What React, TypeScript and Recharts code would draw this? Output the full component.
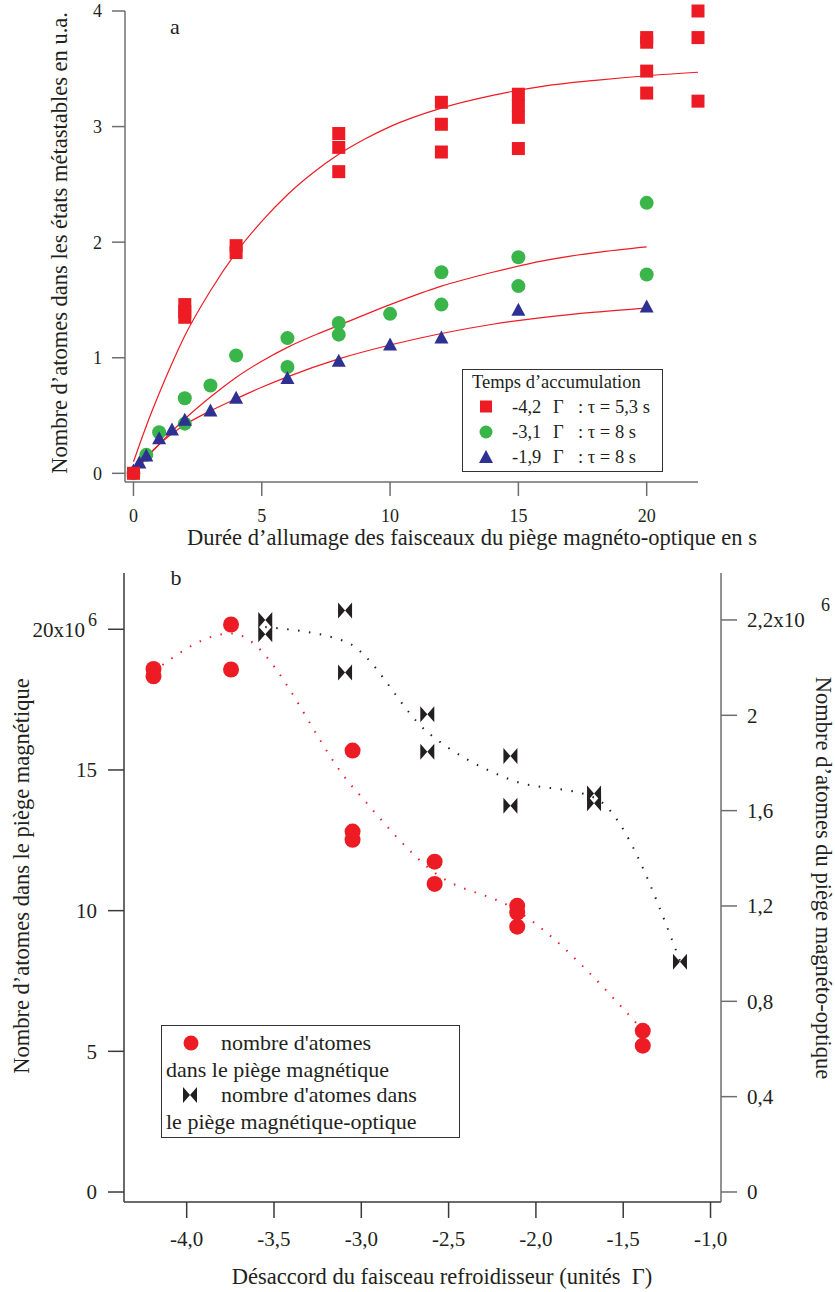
import { ComposedChart, Scatter, Line, XAxis, YAxis } from "recharts";

const FONT = "'Liberation Serif', 'Times New Roman', serif";
const TEXT = "#231f20";
const AXIS = "#6d6e70";
const RED = "#ed1c24";
const GREEN = "#39b54a";
const BLUE = "#2e3192";
const BLACK = "#231f20";

// panel a : durée (s) -> nombre d'atomes (u.a.)
const redSquares = [
  { x: 0, y: 0 }, { x: 2, y: 1.35 }, { x: 2, y: 1.40 }, { x: 2, y: 1.46 },
  { x: 4, y: 1.91 }, { x: 4, y: 1.97 }, { x: 8, y: 2.61 }, { x: 8, y: 2.82 }, { x: 8, y: 2.94 },
  { x: 12, y: 2.78 }, { x: 12, y: 3.02 }, { x: 12, y: 3.21 },
  { x: 15, y: 2.81 }, { x: 15, y: 3.08 }, { x: 15, y: 3.18 }, { x: 15, y: 3.28 },
  { x: 20, y: 3.29 }, { x: 20, y: 3.48 }, { x: 20, y: 3.73 }, { x: 20, y: 3.77 },
  { x: 22, y: 3.22 }, { x: 22, y: 3.77 }, { x: 22, y: 4.0 },
];
const greenCircles = [
  { x: 0, y: 0 }, { x: 0.5, y: 0.16 }, { x: 1, y: 0.355 }, { x: 2, y: 0.43 }, { x: 2, y: 0.65 },
  { x: 3, y: 0.76 }, { x: 4, y: 1.02 }, { x: 6, y: 0.92 }, { x: 6, y: 1.17 },
  { x: 8, y: 1.2 }, { x: 8, y: 1.3 }, { x: 10, y: 1.38 }, { x: 12, y: 1.46 }, { x: 12, y: 1.74 },
  { x: 15, y: 1.62 }, { x: 15, y: 1.87 }, { x: 20, y: 1.72 }, { x: 20, y: 2.34 },
];
const blueTriangles = [
  { x: 0, y: 0.02 }, { x: 0.23, y: 0.09 }, { x: 0.5, y: 0.15 }, { x: 1, y: 0.3 }, { x: 1.5, y: 0.375 },
  { x: 2, y: 0.46 }, { x: 3, y: 0.54 }, { x: 4, y: 0.65 }, { x: 6, y: 0.82 }, { x: 8, y: 0.97 },
  { x: 10, y: 1.11 }, { x: 12, y: 1.17 }, { x: 15, y: 1.41 }, { x: 20, y: 1.44 },
];
// courbes d'ajustement
const fitRed = [
  { x: 0, y: 0.1 }, { x: 0.5, y: 0.41 }, { x: 1, y: 0.69 }, { x: 1.5, y: 0.95 }, { x: 2, y: 1.19 },
  { x: 3, y: 1.58 }, { x: 4, y: 1.91 }, { x: 5, y: 2.18 }, { x: 6, y: 2.41 }, { x: 7, y: 2.6 },
  { x: 8, y: 2.76 }, { x: 9, y: 2.89 }, { x: 10, y: 3.0 }, { x: 12, y: 3.16 }, { x: 14, y: 3.27 },
  { x: 16, y: 3.35 }, { x: 18, y: 3.4 }, { x: 20, y: 3.44 }, { x: 22, y: 3.47 },
];
const fitGreen = [
  { x: 0, y: 0 }, { x: 0.5, y: 0.13 }, { x: 1, y: 0.25 }, { x: 2, y: 0.47 }, { x: 3, y: 0.66 },
  { x: 4, y: 0.83 }, { x: 5, y: 0.97 }, { x: 6, y: 1.09 }, { x: 7, y: 1.19 }, { x: 8, y: 1.28 },
  { x: 10, y: 1.46 }, { x: 12, y: 1.62 }, { x: 14, y: 1.74 }, { x: 16, y: 1.84 }, { x: 18, y: 1.91 },
  { x: 20, y: 1.96 },
];
const fitBlue = [
  { x: 0, y: 0 }, { x: 0.5, y: 0.14 }, { x: 1, y: 0.25 }, { x: 2, y: 0.42 }, { x: 3, y: 0.54 },
  { x: 4, y: 0.645 }, { x: 5, y: 0.745 }, { x: 6, y: 0.835 }, { x: 8, y: 0.99 }, { x: 10, y: 1.11 },
  { x: 12, y: 1.21 }, { x: 14, y: 1.29 }, { x: 16, y: 1.35 }, { x: 18, y: 1.395 }, { x: 20, y: 1.43 },
];
const ticksA_x = [0, 5, 10, 15, 20];
const ticksA_y = [0, 1, 2, 3, 4];

// panel b : désaccord (Γ) -> nombre d'atomes (x10^6)
const magTrap = [
  { x: -4.19, y: 18.33 }, { x: -4.19, y: 18.59 }, { x: -3.746, y: 18.57 }, { x: -3.746, y: 20.17 },
  { x: -3.05, y: 12.52 }, { x: -3.05, y: 12.81 }, { x: -3.05, y: 15.69 },
  { x: -2.58, y: 10.95 }, { x: -2.58, y: 11.74 },
  { x: -2.107, y: 9.43 }, { x: -2.107, y: 9.93 }, { x: -2.107, y: 10.17 },
  { x: -1.388, y: 5.2 }, { x: -1.388, y: 5.73 },
];
const magTrend = [
  { x: -4.19, y: 18.5 }, { x: -3.746, y: 19.85 }, { x: -3.05, y: 14.4 },
  { x: -2.58, y: 11.35 }, { x: -2.107, y: 10.0 }, { x: -1.388, y: 5.75 },
];
const motTrap = [
  { x: -3.55, y: 2.34 }, { x: -3.55, y: 2.4 }, { x: -3.093, y: 2.18 }, { x: -3.093, y: 2.44 },
  { x: -2.622, y: 1.847 }, { x: -2.622, y: 2.004 }, { x: -2.146, y: 1.621 }, { x: -2.146, y: 1.829 },
  { x: -1.667, y: 1.631 }, { x: -1.667, y: 1.672 }, { x: -1.175, y: 0.966 },
];
const motTrend = [
  { x: -3.55, y: 2.37 }, { x: -3.093, y: 2.31 }, { x: -2.622, y: 1.93 },
  { x: -2.146, y: 1.73 }, { x: -1.667, y: 1.655 }, { x: -1.175, y: 0.97 },
];
const ticksB_x = [-4, -3.5, -3, -2.5, -2, -1.5, -1];
const ticksB_left = [0, 5, 10, 15, 20];
const ticksB_right = [0, 0.4, 0.8, 1.2, 1.6, 2, 2.4];
const rightLabels = ["0", "0,4", "0,8", "1,2", "1,6", "2", "2,2x10"];

const Square = (p: any) => <rect x={p.cx - 6.5} y={p.cy - 6.5} width={13} height={13} fill={RED} />;
const Dot = (color: string, r: number) => (p: any) => <circle cx={p.cx} cy={p.cy} r={r} fill={color} />;
const Tri = (p: any) => (
  <polygon points={`${p.cx},${p.cy - 7.5} ${p.cx + 7},${p.cy + 5.5} ${p.cx - 7},${p.cy + 5.5}`} fill={BLUE} />
);
const bowPath = (cx: number, cy: number) =>
  `M${cx - 7},${cy - 8} L${cx},${cy} L${cx + 7},${cy - 8} L${cx + 7},${cy + 8} L${cx},${cy} L${cx - 7},${cy + 8} Z`;
const Bowtie = (p: any) => <path d={bowPath(p.cx, p.cy)} fill={BLACK} />;

const LeftTickB = ({ x, y, payload }: any) =>
  payload.value === 20 ? (
    <g fontFamily={FONT} fill={TEXT}>
      <text x={x - 12} y={y} dy="0.355em" textAnchor="end" fontSize={21}>20x10</text>
      <text x={x - 9} y={y - 10} dy="0.355em" textAnchor="start" fontSize={18}>6</text>
    </g>
  ) : (
    <text x={x} y={y} dy="0.355em" textAnchor="end" fontSize={21} fontFamily={FONT} fill={TEXT}>
      {payload.value}
    </text>
  );

const RightTickB = ({ x, y, payload, index }: any) => {
  const label = rightLabels[ticksB_right.indexOf(payload.value)] ?? rightLabels[index];
  return (
    <g fontFamily={FONT} fill={TEXT}>
      <text x={x} y={y} dy="0.355em" textAnchor="start" fontSize={21}>{label}</text>
      {payload.value === 2.4 && (
        <text x={x + 74} y={y - 15} dy="0.355em" textAnchor="start" fontSize={18}>6</text>
      )}
    </g>
  );
};

const Txt = ({ x, y, rot = 0, size = 22.5, children }: any) => (
  <div
    style={{
      position: "absolute", left: x, top: y, transform: `translate(-50%, -50%) rotate(${rot}deg)`,
      whiteSpace: "nowrap", fontFamily: FONT, fontSize: size, color: TEXT, lineHeight: 1,
    }}
  >
    {children}
  </div>
);

const Abs = ({ x, y, size = 18.5, children }: any) => (
  <div
    style={{
      position: "absolute", left: x, top: y, transform: "translateY(-50%)",
      whiteSpace: "nowrap", fontFamily: FONT, fontSize: size, color: TEXT, lineHeight: 1,
    }}
  >
    {children}
  </div>
);

export default function App() {
  const axisA = { stroke: AXIS, strokeWidth: 1.5 };
  const axisB = { stroke: "#3a3a3a", strokeWidth: 1.5 };
  const tickA = { fill: TEXT, fontSize: 18, fontFamily: FONT };
  const tickB = { fill: TEXT, fontSize: 21, fontFamily: FONT };

  return (
    <div style={{ position: "absolute", left: 0, top: 0, width: 835, height: 1292, background: "#fff" }}>
      {/* panel a */}
      <div style={{ position: "absolute", left: 0, top: 0 }}>
        <ComposedChart width={835} height={560} margin={{ top: 11, right: 137, bottom: 28, left: 65 }}>
          <XAxis
            dataKey="x" type="number" domain={[-0.33, 22]} ticks={ticksA_x} interval={0}
            height={50} axisLine={axisA} tickLine={axisA} tickSize={14} tickMargin={13} tick={tickA}
          />
          <YAxis
            type="number" domain={[-0.075, 4]} ticks={ticksA_y} interval={0}
            width={60} axisLine={axisA} tickLine={axisA} tickSize={13} tickMargin={10} tick={tickA}
          />
          <Line data={fitRed} dataKey="y" type="monotone" stroke={RED} strokeWidth={1.2} dot={false} isAnimationActive={false} />
          <Line data={fitGreen} dataKey="y" type="monotone" stroke={RED} strokeWidth={1.2} dot={false} isAnimationActive={false} />
          <Line data={fitBlue} dataKey="y" type="monotone" stroke={RED} strokeWidth={1.2} dot={false} isAnimationActive={false} />
          <Scatter data={greenCircles} dataKey="y" shape={Dot(GREEN, 7)} isAnimationActive={false} />
          <Scatter data={blueTriangles} dataKey="y" shape={Tri} isAnimationActive={false} />
          <Scatter data={redSquares} dataKey="y" shape={Square} isAnimationActive={false} />
        </ComposedChart>
      </div>

      {/* panel b */}
      <div style={{ position: "absolute", left: 0, top: 560 }}>
        <ComposedChart width={835} height={732} margin={{ top: 13, right: 54, bottom: 40, left: 64 }}>
          <XAxis
            dataKey="x" type="number" domain={[-4.359, -0.94]} ticks={ticksB_x} interval={0}
            height={50} axisLine={axisB} tickLine={axisB} tickSize={16} tickMargin={13} tick={tickB}
            tickFormatter={(v: number) => v.toFixed(1).replace(".", ",")}
          />
          <YAxis
            yAxisId="left" type="number" domain={[-0.355, 22]} ticks={ticksB_left} interval={0}
            width={60} axisLine={axisB} tickLine={axisB} tickSize={16} tickMargin={11} tick={<LeftTickB />}
          />
          <YAxis
            yAxisId="right" orientation="right" type="number" domain={[-0.042, 2.597]} ticks={ticksB_right}
            interval={0} width={60} axisLine={axisA} tickLine={axisA} tickSize={16}
            tickMargin={10} tick={<RightTickB />}
          />
          <Line
            yAxisId="left" data={magTrend} dataKey="y" type="monotone" stroke={RED} strokeWidth={2}
            strokeDasharray="1.5 9.5" dot={false} isAnimationActive={false}
          />
          <Line
            yAxisId="right" data={motTrend} dataKey="y" type="monotone" stroke={BLACK} strokeWidth={2}
            strokeDasharray="1.5 9.5" dot={false} isAnimationActive={false}
          />
          <Scatter yAxisId="left" data={magTrap} dataKey="y" shape={Dot(RED, 8)} isAnimationActive={false} />
          <Scatter yAxisId="right" data={motTrap} dataKey="y" shape={Bowtie} isAnimationActive={false} />
        </ComposedChart>
      </div>

      {/* titres */}
      <Txt x={175} y={27} size={22}>a</Txt>
      <Txt x={176} y={578} size={22}>b</Txt>
      <Txt x={60} y={243} rot={-90}>Nombre d’atomes dans les états métastables en u.a.</Txt>
      <Txt x={472} y={538}>Durée d’allumage des faisceaux du piège magnéto-optique en s</Txt>
      <Txt x={22} y={876} rot={-90}>Nombre d’atomes dans le piège magnétique</Txt>
      <Txt x={823} y={878} rot={90}>Nombre d’atomes du piège magnéto-optique</Txt>
      <Txt x={442} y={1277}>Désaccord du faisceau refroidisseur (unités&nbsp; Γ)</Txt>

      {/* légende a */}
      <div style={{ position: "absolute", left: 462, top: 369, width: 199, height: 101, border: "1.5px solid #333" }} />
      <Abs x={472} y={382}>Temps d’accumulation</Abs>
      <svg style={{ position: "absolute", left: 0, top: 0, overflow: "visible" }} width={1} height={1}>
        <rect x={480} y={400.5} width={12} height={12} fill={RED} />
        <circle cx={486} cy={432} r={6.5} fill={GREEN} />
        <polygon points="486,450 493,463 479,463" fill={BLUE} />
        <circle cx={191} cy={1043} r={7.5} fill={RED} />
        <path d={bowPath(190, 1095)} fill={BLACK} />
      </svg>
      {[["-4,2", "5,3 s", 407], ["-3,1", "8 s", 432], ["-1,9", "8 s", 457]].map(([a, b, y]) => (
        <div key={a as string}>
          <Abs x={512} y={y}>{a}</Abs>
          <Abs x={553} y={y}>Γ</Abs>
          <Abs x={578} y={y}>: τ = {b}</Abs>
        </div>
      ))}

      {/* légende b */}
      <div style={{ position: "absolute", left: 161, top: 1025, width: 297, height: 111, border: "1.5px solid #333" }} />
      <Abs x={221} y={1043} size={22}>nombre d'atomes</Abs>
      <Abs x={166} y={1070} size={22}>dans le piège magnétique</Abs>
      <Abs x={221} y={1095} size={22}>nombre d'atomes dans</Abs>
      <Abs x={166} y={1122} size={22}>le piège magnétique-optique</Abs>
    </div>
  );
}
